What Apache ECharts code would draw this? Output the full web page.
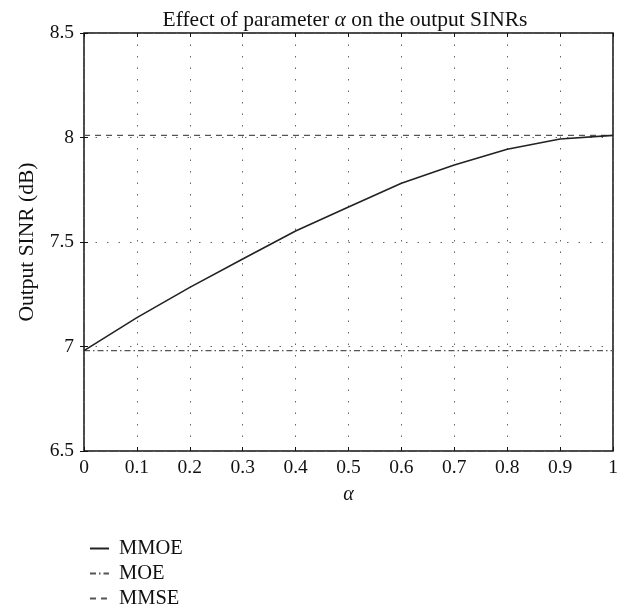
<!DOCTYPE html>
<html>
<head>
<meta charset="utf-8">
<script src="https://cdn.jsdelivr.net/npm/echarts@6/dist/echarts.min.js"></script>
<style>html,body{margin:0;padding:0;background:#fff}#c{width:624px;height:607px}</style>
</head>
<body>
<div id="c"></div>
<script>
const alpha = [0, 0.1, 0.2, 0.3, 0.4, 0.5, 0.6, 0.7, 0.8, 0.9, 1.0];
const mmoe = [6.98, 7.138, 7.283, 7.419, 7.553, 7.667, 7.781, 7.868, 7.944, 7.993, 8.01];
const moe = [6.98, 6.98, 6.98, 6.98, 6.98, 6.98, 6.98, 6.98, 6.98, 6.98, 6.98];
const mmse = [8.01, 8.01, 8.01, 8.01, 8.01, 8.01, 8.01, 8.01, 8.01, 8.01, 8.01];
const xTickLabels = ['0', '0.1', '0.2', '0.3', '0.4', '0.5', '0.6', '0.7', '0.8', '0.9', '1'];
const yTickLabels = ['6.5', '7', '7.5', '8', '8.5'];
const seriesNames = ['MMOE', 'MOE', 'MMSE'];

const font = 'Liberation Serif';
const chart = echarts.init(document.getElementById('c'));
const gridLine = { show: true, lineStyle: { color: '#666', width: 1, type: [1.5, 10] } };
const pair = (xs, ys) => xs.map((x, i) => [x, ys[i]]);
const legendTops = [538, 563, 588];
const mkLegend = (name, i) => ({
  orient: 'vertical', left: 89, top: legendTops[i], padding: 0, itemWidth: 19, itemHeight: 14,
  itemStyle: { color: 'rgba(0,0,0,0)', borderWidth: 0 },
  textStyle: { fontFamily: font, fontSize: 20.5, color: '#111', padding: [0, 0, 0, 5] },
  data: [name]
});

chart.setOption({
  animation: false,
  title: {
    text: 'Effect of parameter {i|α} on the output SINRs',
    left: 340, top: 4, textAlign: 'center',
    textStyle: {
      fontFamily: font, fontSize: 21.5, fontWeight: 'normal', color: '#111',
      rich: { i: { fontFamily: font, fontSize: 21.5, fontStyle: 'italic', color: '#111' } }
    }
  },
  grid: { left: 84, right: 11, top: 33, bottom: 156, show: true, borderColor: '#111', borderWidth: 1.5, backgroundColor: 'transparent' },
  legend: seriesNames.map(mkLegend),
  xAxis: [{
    type: 'value', min: 0, max: 1, interval: 0.1,
    name: 'α', nameLocation: 'middle', nameGap: 34,
    nameTextStyle: { fontFamily: font, fontSize: 20, fontStyle: 'italic', color: '#111' },
    axisLine: { show: false },
    axisTick: { show: true, inside: true, length: 4, lineStyle: { color: '#111' } },
    axisLabel: { fontFamily: font, fontSize: 19.5, color: '#111', margin: 7,
      formatter: v => xTickLabels[Math.round(v * 10)] },
    splitLine: gridLine
  }, {
    type: 'value', min: 0, max: 1, interval: 0.1, position: 'top',
    axisLine: { show: false },
    axisTick: { show: true, inside: true, length: 4, lineStyle: { color: '#111' } },
    axisLabel: { show: false }, splitLine: { show: false }
  }],
  yAxis: [{
    type: 'value', min: 6.5, max: 8.5, interval: 0.5,
    name: 'Output SINR (dB)', nameLocation: 'middle', nameGap: 45,
    nameTextStyle: { fontFamily: font, fontSize: 21.5, color: '#111' },
    axisLine: { show: false },
    axisTick: { show: true, inside: true, length: 4, lineStyle: { color: '#111' } },
    axisLabel: { fontFamily: font, fontSize: 19.5, color: '#111', margin: 10,
      formatter: v => yTickLabels[Math.round((v - 6.5) * 2)] },
    splitLine: gridLine
  }, {
    type: 'value', min: 6.5, max: 8.5, interval: 0.5, position: 'right',
    axisLine: { show: false },
    axisTick: { show: true, inside: true, length: 4, lineStyle: { color: '#111' } },
    axisLabel: { show: false }, splitLine: { show: false }
  }],
  series: [
    { name: seriesNames[0], type: 'line', data: pair(alpha, mmoe), symbol: 'none', z: 5,
      lineStyle: { color: '#222', width: 1.6, type: 'solid' }, itemStyle: { color: '#222' } },
    { name: seriesNames[1], type: 'line', data: pair(alpha, moe), symbol: 'none',
      lineStyle: { color: '#555', width: 1.3, type: [6, 3, 1.5, 3] }, itemStyle: { color: '#555' } },
    { name: seriesNames[2], type: 'line', data: pair(alpha, mmse), symbol: 'none',
      lineStyle: { color: '#555', width: 1.3, type: [6, 5] }, itemStyle: { color: '#555' } }
  ]
});
</script>
</body>
</html>
